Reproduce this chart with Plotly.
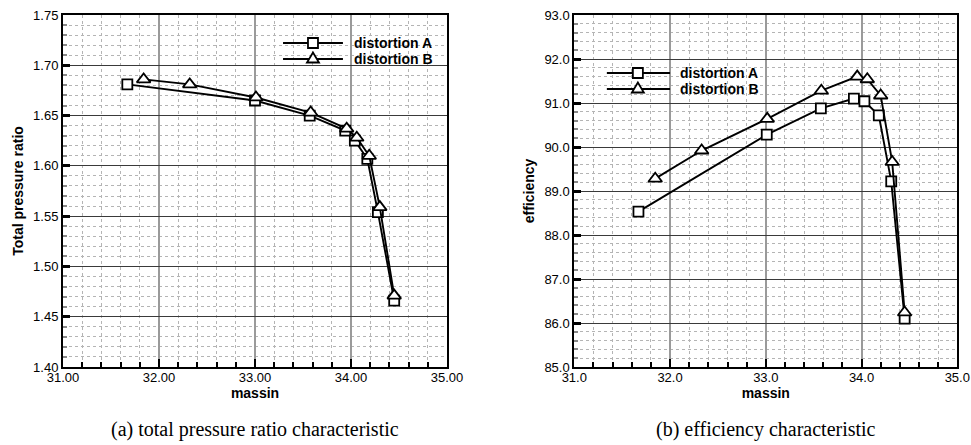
import plotly.graph_objects as go

# ---- data -------------------------------------------------------------
mass_a = [31.67, 33.00, 33.57, 33.94, 34.04, 34.17, 34.28, 34.45]
pr_a = [1.681, 1.665, 1.650, 1.635, 1.625, 1.607, 1.554, 1.466]
mass_b = [31.84, 32.32, 33.01, 33.58, 33.955, 34.06, 34.19, 34.30, 34.45]
pr_b = [1.686, 1.681, 1.668, 1.653, 1.637, 1.628, 1.610, 1.559, 1.471]

eff_mass_a = [31.67, 33.01, 33.575, 33.92, 34.03, 34.18, 34.31, 34.45]
eff_a = [88.53, 90.28, 90.88, 91.10, 91.04, 90.72, 89.22, 86.10]
eff_mass_b = [31.845, 32.33, 33.015, 33.58, 33.955, 34.06, 34.20, 34.32, 34.45]
eff_b = [89.28, 89.92, 90.64, 91.28, 91.60, 91.54, 91.17, 89.66, 86.24]

series_names = ["distortion A", "distortion B"]
x_title = "massin"
y_titles = ["Total pressure ratio", "efficiency"]
captions = ["(a) total pressure ratio characteristic", "(b) efficiency characteristic"]

SANS = "Liberation Sans, Arial, sans-serif"
SERIF = "Liberation Serif, Times New Roman, serif"

fig = go.Figure()

def add_series(x, y, xa, ya, symbol, size):
    fig.add_trace(go.Scatter(
        x=x, y=y, xaxis=xa, yaxis=ya, mode="lines+markers",
        line=dict(color="black", width=1.9),
        marker=dict(symbol=symbol, size=size, color="white",
                    line=dict(color="black", width=1.8)),
        showlegend=False, hoverinfo="x+y"))

add_series(mass_a, pr_a, "x", "y", "square", 10)
add_series(mass_b, pr_b, "x", "y", "triangle-up", 12)
add_series(eff_mass_a, eff_a, "x2", "y2", "square", 10)
add_series(eff_mass_b, eff_b, "x2", "y2", "triangle-up", 12)

W, H = 971, 445
top_px, bot_px = 15, 367
plot_h = bot_px - top_px
left_dom = [63 / W, 447 / W]
right_dom = [574.3 / W, 957.3 / W]

def xaxis_cfg(dom, fmt, anchor):
    return dict(
        domain=dom, range=[31, 35], dtick=1, tickformat=fmt, anchor=anchor,
        showline=True, linecolor="black", linewidth=2, mirror=True,
        showgrid=True, gridcolor="#9a9a9a", gridwidth=1.5,
        ticks="inside", ticklen=8, tickwidth=1.5, tickcolor="black",
        ticklabelstandoff=-3,
        tickfont=dict(family=SANS, size=13, color="black"),
        minor=dict(dtick=0.2, showgrid=True, gridcolor="#b4b4b4",
                   griddash="dot", gridwidth=1, ticks="inside",
                   ticklen=5, tickwidth=1.5, tickcolor="black"),
        title=dict(text="<b>%s</b>" % x_title, standoff=0,
                   font=dict(family=SANS, size=14, color="black")),
        automargin=False, zeroline=False, fixedrange=True)

def yaxis_cfg(rng, dt, mdt, fmt, anchor, title):
    return dict(
        domain=[0, 1], range=rng, dtick=dt,
        tickformat=fmt, anchor=anchor,
        showline=True, linecolor="black", linewidth=2, mirror=True,
        showgrid=True, gridcolor="#3a3a3a", gridwidth=1,
        ticks="inside", ticklen=7, tickwidth=2.5, tickcolor="black",
        tickfont=dict(family=SANS, size=13, color="black"),
        minor=dict(dtick=mdt, showgrid=True, gridcolor="#b4b4b4",
                   griddash="dot", gridwidth=1, ticks="inside",
                   ticklen=4, tickwidth=1.5, tickcolor="#888"),
        title=dict(text="<b>%s</b>" % title, standoff=6,
                   font=dict(family=SANS, size=14, color="black")),
        automargin=False, zeroline=False, fixedrange=True)

fig.update_layout(
    width=W, height=H, margin=dict(l=0, r=0, t=top_px, b=H - bot_px),
    paper_bgcolor="white", plot_bgcolor="white",
    xaxis=xaxis_cfg(left_dom, ".2f", "y"),
    yaxis=yaxis_cfg([1.40, 1.75], 0.05, 0.01, ".2f", "x", y_titles[0]),
    xaxis2=xaxis_cfg(right_dom, ".1f", "y2"),
    yaxis2=yaxis_cfg([85, 93], 1, 0.2, ".1f", "x2", y_titles[1]),
)

# ---- in-plot keys -------------------------------------------------------
shapes, annos = [], []

def key(xr, yr, x0, x1, xm, xt, ya, yb):
    for yy, name, sym in [(ya, series_names[0], "sq"), (yb, series_names[1], "tri")]:
        shapes.append(dict(type="line", xref=xr + " domain", yref=yr + " domain",
                           x0=x0, x1=x1, y0=yy, y1=yy,
                           line=dict(color="black", width=2)))
        if sym == "sq":
            shapes.append(dict(type="rect", xref=xr + " domain", yref=yr + " domain",
                               xsizemode="pixel", ysizemode="pixel",
                               xanchor=xm, yanchor=yy, x0=-5, x1=5, y0=-5, y1=5,
                               fillcolor="white", line=dict(color="black", width=1.8)))
        else:
            shapes.append(dict(type="path", xref=xr + " domain", yref=yr + " domain",
                               xsizemode="pixel", ysizemode="pixel",
                               xanchor=xm, yanchor=yy,
                               path="M-6,-3.5 L6,-3.5 L0,6.5 Z",
                               fillcolor="white", line=dict(color="black", width=1.8)))
        annos.append(dict(xref=xr + " domain", yref=yr + " domain", x=xt, y=yy,
                          xanchor="left", yanchor="middle", showarrow=False,
                          text="<b>%s</b>" % name,
                          font=dict(family=SANS, size=14, color="black")))

key("x", "y", 0.573, 0.729, 0.651, 0.752, (bot_px - 43) / plot_h, (bot_px - 59) / plot_h)
key("x2", "y2", 0.085, 0.250, 0.166, 0.272, (bot_px - 73) / plot_h, (bot_px - 89) / plot_h)

for dom, cap in zip([left_dom, right_dom], captions):
    annos.append(dict(xref="paper", yref="paper", x=(dom[0] + dom[1]) / 2,
                      y=(bot_px - 429) / plot_h,
                      xanchor="center", yanchor="middle", showarrow=False,
                      text=cap, font=dict(family=SERIF, size=20, color="black")))

fig.update_layout(shapes=shapes, annotations=annos)
fig.write_html("out.html")
